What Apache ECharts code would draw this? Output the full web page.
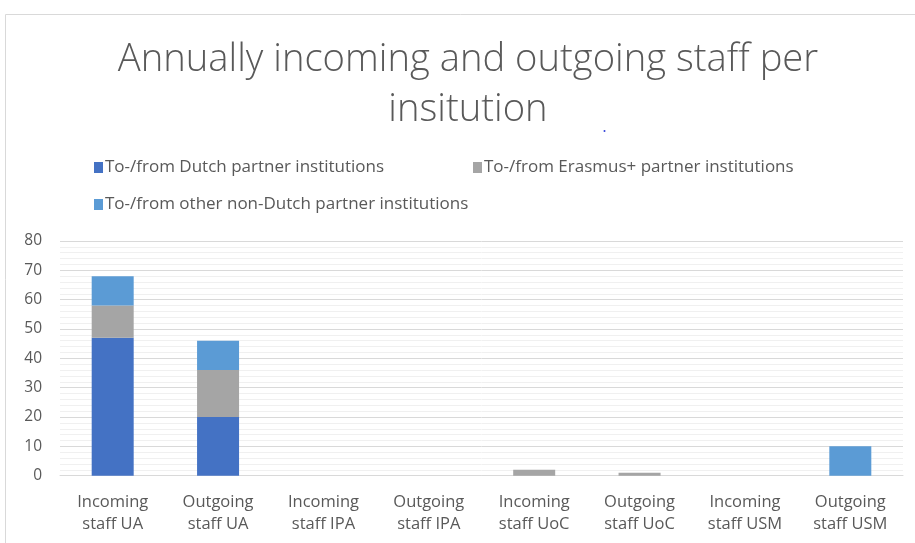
<!DOCTYPE html>
<html>
<head>
<meta charset="utf-8">
<script src="https://cdn.jsdelivr.net/npm/echarts@6/dist/echarts.min.js"></script>
<style>html,body{margin:0;padding:0;background:#fff}#c{width:915px;height:543px}</style>
</head>
<body>
<div id="c"></div>
<script>
const categories = ['Incoming\nstaff UA','Outgoing\nstaff UA','Incoming\nstaff IPA','Outgoing\nstaff IPA','Incoming\nstaff UoC','Outgoing\nstaff UoC','Incoming\nstaff USM','Outgoing\nstaff USM'];
const seriesNames = ['To-/from Dutch partner institutions','To-/from Erasmus+ partner institutions','To-/from other non-Dutch partner institutions'];
const dutch = [47, 20, 0, 0, 0, 0, 0, 0];
const erasmus = [11, 16, 0, 0, 2, 1, 0, 0];
const other = [10, 10, 0, 0, 0, 0, 0, 10];
const yTicks = [0, 10, 20, 30, 40, 50, 60, 70, 80];
const colors = ['#4472C4', '#A5A5A5', '#5B9BD5'];

const FONT = 'Open Sans';
const chart = echarts.init(document.getElementById('c'));
const legendCommon = {itemWidth: 9, itemHeight: 11, icon: 'rect', itemGap: 4,
  textStyle: {color: '#595959', fontSize: 17, fontFamily: FONT, padding: [0,0,0,-3]}};
chart.setOption({
  animation: false,
  color: colors,
  title: {text: 'Annually incoming and outgoing staff per\ninsitution', left: 463, textAlign: 'center', top: 30,
    textStyle: {fontFamily: FONT, fontWeight: 300, fontSize: 38.2, color: '#595959', lineHeight: 50}},
  graphic: [
    {type: 'rect', shape: {x: 5.5, y: 14.5, width: 920, height: 540}, style: {fill: 'none', stroke: '#d9d9d9', lineWidth: 1}, silent: true},
    {type: 'circle', shape: {cx: 604.5, cy: 131, r: 1}, style: {fill: '#2f3fd8'}, silent: true}
  ],
  legend: [
    Object.assign({data: [seriesNames[0]], left: 89, top: 154}, legendCommon),
    Object.assign({data: [seriesNames[1]], left: 468, top: 154}, legendCommon),
    Object.assign({data: [seriesNames[2]], left: 89, top: 191}, legendCommon)
  ],
  grid: {left: 60, right: 12, top: 241, bottom: 67.3},
  xAxis: {type: 'category', data: categories,
    axisLine: {lineStyle: {color: '#d9d9d9'}}, axisTick: {show: false},
    axisLabel: {color: '#595959', fontSize: 16.5, fontFamily: FONT, lineHeight: 22, margin: 16}},
  yAxis: {type: 'value', min: yTicks[0], max: yTicks[yTicks.length-1], interval: 10,
    axisLine: {show: false}, axisTick: {show: false},
    axisLabel: {color: '#595959', fontSize: 15.5, fontFamily: FONT, margin: 18},
    splitLine: {lineStyle: {color: '#d9d9d9'}},
    minorTick: {show: false, splitNumber: 5},
    minorSplitLine: {show: true, lineStyle: {color: '#f0f0f0'}}},
  series: [
    {name: seriesNames[0], type: 'bar', stack: 's', data: dutch, barWidth: 42},
    {name: seriesNames[1], type: 'bar', stack: 's', data: erasmus, barWidth: 42},
    {name: seriesNames[2], type: 'bar', stack: 's', data: other, barWidth: 42}
  ]
});
</script>
</body>
</html>
